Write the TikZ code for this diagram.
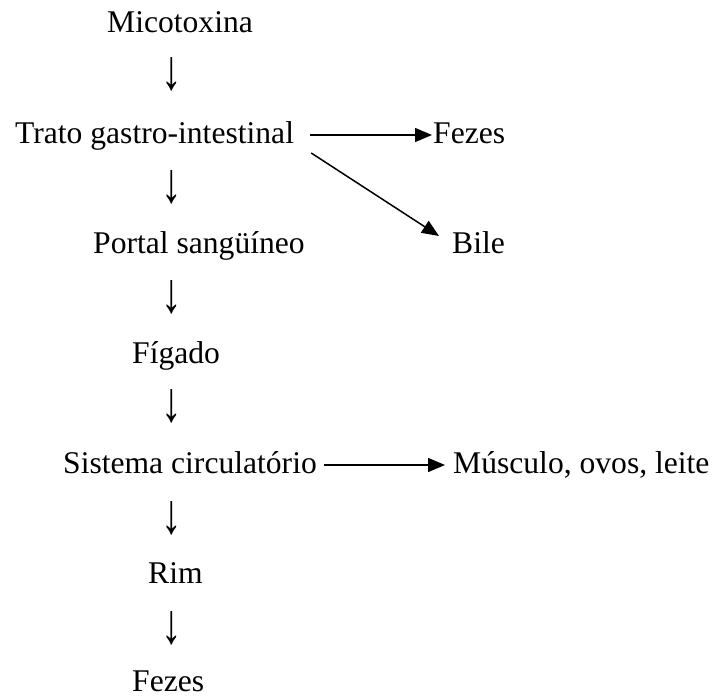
\documentclass[tikz,border=0pt]{standalone}
\usepackage{fontspec}
\setmainfont{Liberation Serif}
\usepackage{graphicx}
\usepackage{tikz}
\usetikzlibrary{arrows.meta}

\newcommand{\dnarrow}{\scalebox{1.3}[1.8]{↓}}

\begin{document}
\begin{tikzpicture}[x=1pt,y=-1pt,
  txt/.style={inner sep=0pt,anchor=base west,font=\fontsize{31.6}{38}\selectfont},
  dn/.style={inner sep=0pt,anchor=base,font=\fontsize{31.6}{38}\selectfont},
  arr/.style={line width=1.5pt,-{Triangle[length=17pt,width=14pt]}}]
  \useasboundingbox (0,0) rectangle (715,698);
  \node[txt] (mico) at (107,33) {Micotoxina};
  \node[dn] (d1) at (172,90) {\dnarrow};
  \node[txt] (trato) at (15,143) {Trato gastro-intestinal};
  \node[txt] (fezesa) at (433,143) {Fezes};
  \node[dn] (d2) at (172,202) {\dnarrow};
  \node[txt] (portal) at (93,253) {Portal sangüíneo};
  \node[txt] (bile) at (452,253) {Bile};
  \node[dn] (d3) at (172,312) {\dnarrow};
  \node[txt] (figado) at (132,363) {Fígado};
  \node[dn] (d4) at (172,421) {\dnarrow};
  \node[txt] (sist) at (63,473) {Sistema circulatório};
  \node[txt] (musc) at (453,473) {Músculo, ovos, leite};
  \node[dn] (d5) at (172,533) {\dnarrow};
  \node[txt] (rim) at (148,583) {Rim};
  \node[dn] (d6) at (172,643) {\dnarrow};
  \node[txt] (fezesb) at (132,691) {Fezes};
  \draw[arr] ([xshift=16pt,yshift=8pt]trato.base east) -- ([xshift=-1pt,yshift=8pt]fezesa.base west);
  \draw[arr] ([xshift=17pt,yshift=-10pt]trato.base east) -- ([xshift=-13pt,yshift=17pt]bile.base west);
  \draw[arr] ([xshift=7pt,yshift=8pt]sist.base east) -- ([xshift=-8pt,yshift=8pt]musc.base west);
\end{tikzpicture}
\end{document}
